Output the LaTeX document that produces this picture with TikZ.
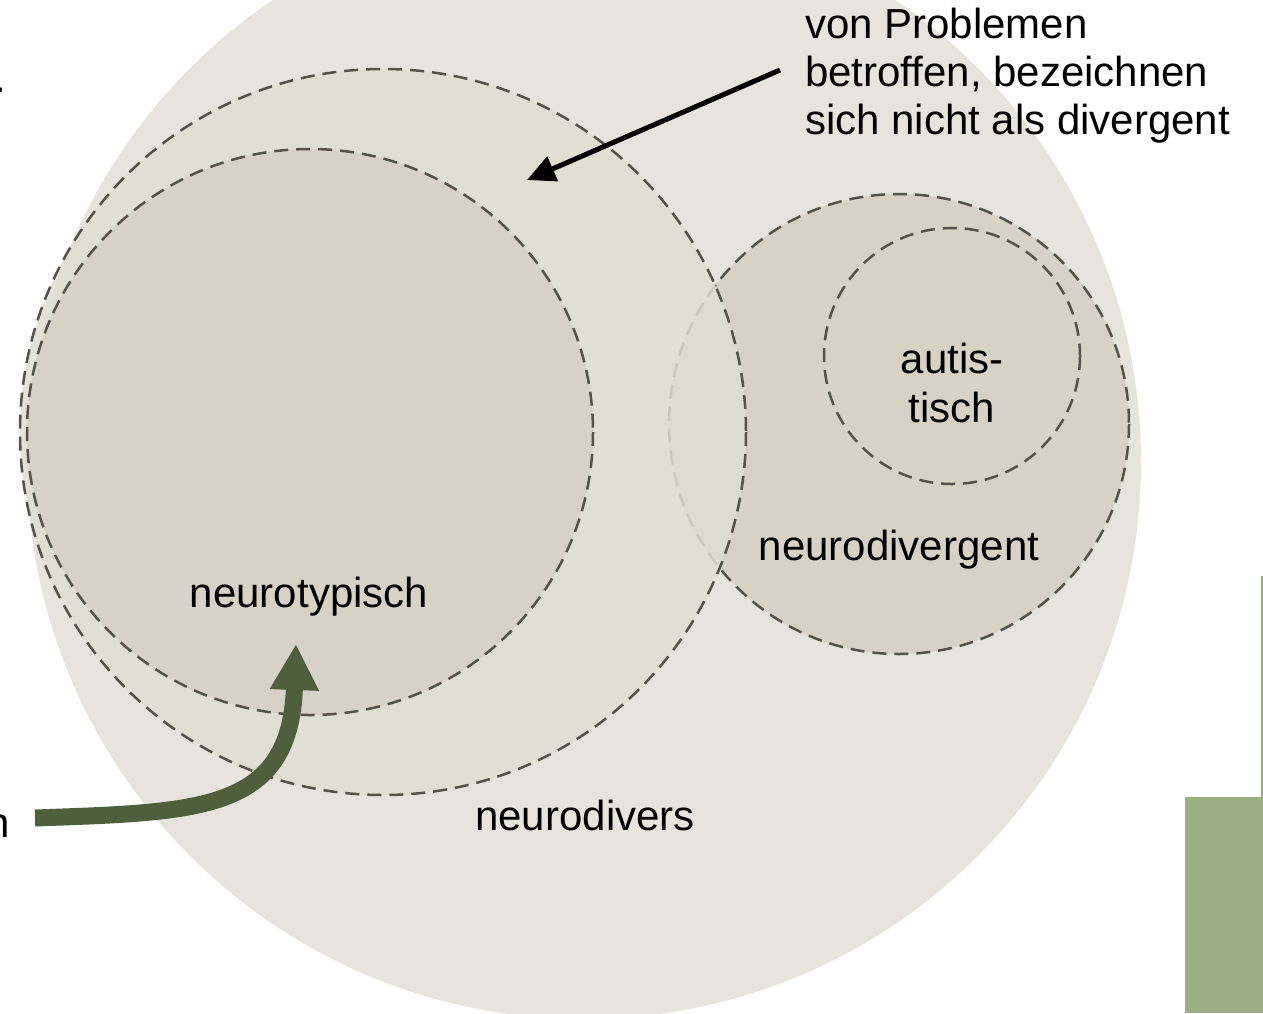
\documentclass[tikz,border=0pt]{standalone}
\usepackage{fontspec}
\setmainfont{Liberation Sans}
\usetikzlibrary{arrows.meta}

\definecolor{outerfill}{HTML}{E7E4DD}
\definecolor{diversfill}{HTML}{E0DDD3}
\definecolor{groupfill}{HTML}{D8D2C6}
\definecolor{dashgray}{HTML}{55524B}
\definecolor{olive}{HTML}{4F5F3E}
\definecolor{sage}{HTML}{9BAE84}

\tikzset{
  setcircle/.style={draw=dashgray, line width=2.5pt, dash pattern=on 14pt off 8pt},
  label/.style={inner sep=0pt, font=\fontsize{42}{49}\selectfont},
}

\begin{document}
\begin{tikzpicture}[x=1pt, y=-1pt]
  \useasboundingbox (0,0) rectangle (1263,1013);

  % whole population
  \fill[outerfill] (584,462) circle[radius=557];

  % neurodivergent group with the autistic subgroup
  \path[setcircle, fill=groupfill] (899,424) circle[radius=230];
  \path[setcircle, fill=groupfill] (952,356) circle[radius=128];

  % people with problems who do not call themselves divergent
  \path[setcircle, fill=diversfill, fill opacity=0.85] (383,432) circle[radius=363];

  % neurotypical group
  \path[setcircle, fill=groupfill] (310,432) circle[radius=283];

  % labels
  \node[label, anchor=base] (autist1) at (952,373) {autis-};
  \node[label, anchor=base] (autist2) at (952,422) {tisch};
  \node[label, anchor=base] (nd) at (899,560) {neurodivergent};
  \node[label, anchor=base] (nt) at (309,607) {neurotypisch};
  \node[label, anchor=base] (ndivers) at (585,830) {neurodivers};

  \node[label, anchor=base west] (prob1) at (805,38) {von Problemen};
  \node[label, anchor=base west] (prob2) at (805,86) {betroffen, bezeichnen};
  \node[label, anchor=base west] (prob3) at (805,134) {sich nicht als divergent};

  % partly visible text at the left border
  \node[label, anchor=base east] (leftn) at (10,837) {n};
  \node[label, anchor=base east] (leftdot) at (6,92) {.};

  % pointer to the ring of undeclared people
  \coordinate (probTail) at (780,70);
  \coordinate (probTip) at (527,180);
  \draw[line width=5pt, -{Triangle[length=28pt, width=26pt]}] (probTail) -- (probTip);

  % thick green arrow into the neurotypical circle
  \coordinate (greenTail) at (35,818);
  \coordinate (greenTip) at (296,644);
  \draw[olive, line width=17pt, -{Triangle[length=46pt, width=46pt]}]
    (greenTail) .. controls (200,812) and (290,812) .. (greenTip);

  % green bar at the right border
  \draw[sage, line width=1.5pt] (1262,576) -- (1262,797);
  \fill[sage] (1185,797) rectangle (1263,1013);
\end{tikzpicture}
\end{document}
